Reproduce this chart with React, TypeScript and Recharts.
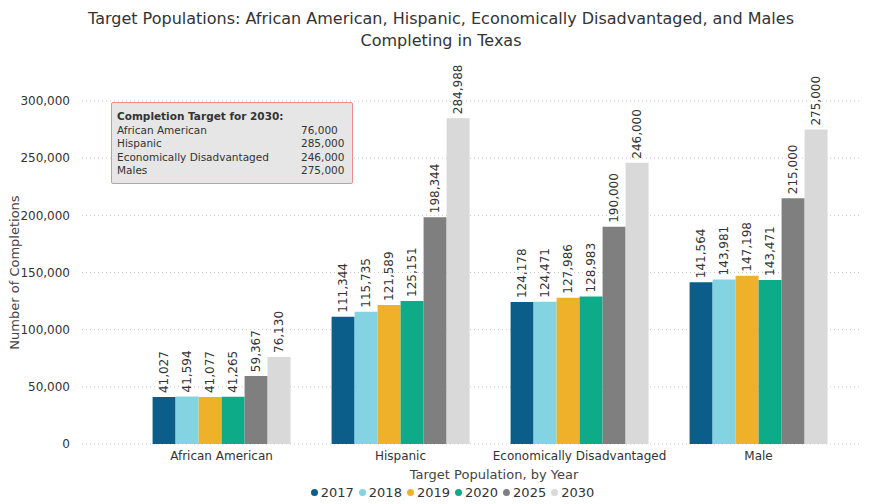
import React from "react";
import { BarChart, Bar, XAxis, YAxis, CartesianGrid, LabelList, Label } from "recharts";

const categories = ["African American", "Hispanic", "Economically Disadvantaged", "Male"];
const years = ["2017", "2018", "2019", "2020", "2025", "2030"];
const values2017 = [41027, 111344, 124178, 141564];
const values2018 = [41594, 115735, 124471, 143981];
const values2019 = [41077, 121589, 127986, 147198];
const values2020 = [41265, 125151, 128983, 143471];
const values2025 = [59367, 198344, 190000, 215000];
const values2030 = [76130, 284988, 246000, 275000];
const yTicks = [0, 50000, 100000, 150000, 200000, 250000, 300000];
const targetLabels = ["African American", "Hispanic", "Economically Disadvantaged", "Males"];
const targetValues = ["76,000", "285,000", "246,000", "275,000"];

const colors = ["#0b5e8a", "#84d3e2", "#f0b12a", "#0eab89", "#7f7f7f", "#d9d9d9"];
const seriesValues = [values2017, values2018, values2019, values2020, values2025, values2030];

const data = categories.map((c, i) => {
  const row: any = { name: c };
  years.forEach((y, j) => {
    row[y] = seriesValues[j][i];
  });
  return row;
});

const FONT = "Tahoma, 'DejaVu Sans', Verdana, sans-serif";
const fmt = (v: number) => v.toLocaleString("en-US");

const renderLabel = (props: any) => {
  const { x, y, width, value } = props;
  const cx = x + width / 2;
  const cy = y - 4;
  return (
    <text
      x={cx}
      y={cy}
      transform={`rotate(-90, ${cx}, ${cy})`}
      textAnchor="start"
      dy="0.35em"
      fontSize={12}
      fill="#333"
      fontFamily={FONT}
    >
      {fmt(value)}
    </text>
  );
};

export default function App() {
  return (
    <div style={{ position: "absolute", left: 0, top: 0, width: 882, height: 504, background: "#fff", fontFamily: FONT }}>
      <div
        style={{
          position: "absolute",
          left: 0,
          top: 8,
          width: 882,
          textAlign: "center",
          fontSize: 16,
          lineHeight: "22px",
          color: "#333",
        }}
      >
        Target Populations: African American, Hispanic, Economically Disadvantaged, and Males
        <br />
        Completing in Texas
      </div>
      <BarChart
        width={882}
        height={504}
        data={data}
        margin={{ top: 101, right: 22, bottom: 30, left: 0 }}
        barCategoryGap="11.5%"
        barGap={0}
        style={{ position: "absolute", left: 0, top: 0 }}
      >
        <CartesianGrid vertical={false} stroke="#c8c8c8" strokeDasharray="1 3" />
        <XAxis
          dataKey="name"
          axisLine={false}
          tickLine={false}
          padding={{ left: 50, right: 12 }}
          tick={{ fontSize: 12, fill: "#333", fontFamily: FONT }}
          tickMargin={1}
          height={30}
        />
        <YAxis
          width={82}
          domain={[0, 300000]}
          ticks={yTicks}
          axisLine={false}
          tickLine={false}
          tickFormatter={fmt}
          tick={{ fontSize: 12, fill: "#333", fontFamily: FONT }}
          tickMargin={6}
        >
          <Label
            value="Number of Completions"
            angle={-90}
            position="insideLeft"
            offset={14}
            style={{ fontSize: 13, fill: "#444", fontFamily: FONT, textAnchor: "middle" }}
          />
        </YAxis>
        {years.map((y, j) => (
          <Bar key={y} dataKey={y} fill={colors[j]} isAnimationActive={false}>
            <LabelList dataKey={y} content={renderLabel} />
          </Bar>
        ))}
      </BarChart>
      <div
        style={{
          position: "absolute",
          left: 0,
          top: 467,
          width: 882,
          paddingLeft: 106,
          boxSizing: "border-box",
          textAlign: "center",
          fontSize: 13,
          color: "#444",
        }}
      >
        Target Population, by Year
      </div>
      <div
        style={{
          position: "absolute",
          left: 0,
          top: 485,
          width: 882,
          paddingLeft: 28,
          boxSizing: "border-box",
          display: "flex",
          justifyContent: "center",
          fontSize: 13,
          color: "#333",
        }}
      >
        {years.map((y, j) => (
          <span key={y} style={{ display: "inline-flex", alignItems: "center", marginRight: 5 }}>
            <span
              style={{
                display: "inline-block",
                width: 7,
                height: 7,
                borderRadius: "50%",
                background: colors[j],
                marginRight: 3,
              }}
            />
            {y}
          </span>
        ))}
      </div>
      <div
        style={{
          position: "absolute",
          left: 111,
          top: 102,
          width: 242,
          height: 82,
          background: "#e6e6e6",
          border: "1px solid #f08c8c",
          borderRadius: 2,
          fontSize: 10.5,
          color: "#333",
          lineHeight: "13.5px",
          padding: "7px 0 0 5px",
          boxSizing: "border-box",
        }}
      >
        <div style={{ fontWeight: "bold" }}>Completion Target for 2030:</div>
        {targetLabels.map((t, i) => (
          <div key={t} style={{ display: "flex" }}>
            <span style={{ width: 184 }}>{t}</span>
            <span>{targetValues[i]}</span>
          </div>
        ))}
      </div>
    </div>
  );
}
